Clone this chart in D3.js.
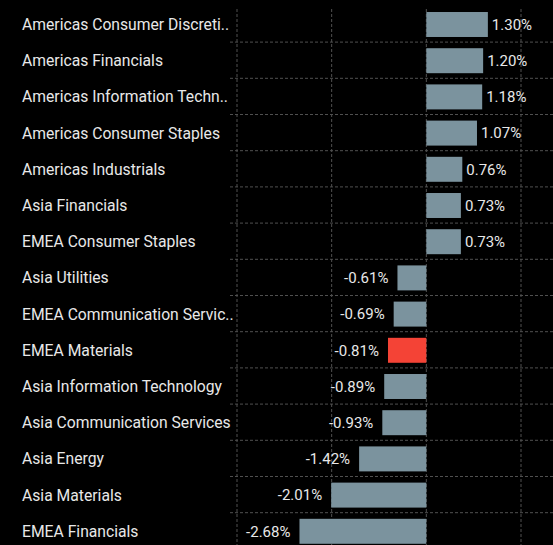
<!DOCTYPE html>
<html>
<head>
<meta charset="utf-8">
<script src="https://cdn.jsdelivr.net/npm/d3@7"></script>
<style>
  html, body { margin: 0; padding: 0; background: #000; }
  svg { display: block; }
  text { font-family: Roboto, "Noto Sans", sans-serif; }
</style>
</head>
<body>
<svg id="chart" width="553" height="545"></svg>
<script>
const categories = [
  "Americas Consumer Discreti..",
  "Americas Financials",
  "Americas Information Techn..",
  "Americas Consumer Staples",
  "Americas Industrials",
  "Asia Financials",
  "EMEA Consumer Staples",
  "Asia Utilities",
  "EMEA Communication Servic..",
  "EMEA Materials",
  "Asia Information Technology",
  "Asia Communication Services",
  "Asia Energy",
  "Asia Materials",
  "EMEA Financials"
];
const values = [1.30, 1.20, 1.18, 1.07, 0.76, 0.73, 0.73, -0.61, -0.69, -0.81, -0.89, -0.93, -1.42, -2.01, -2.68];
const highlighted = ["EMEA Materials"];
const xTicks = [-4, -2, 0, 2];

const W = 553, H = 545;
const svg = d3.select("#chart");

const x = d3.scaleLinear().domain([-4, 2]).range([237, 521]);
const y = d3.scaleBand().domain(categories).range([6.4, 549.4]).paddingInner(0.31).paddingOuter(0.155);

const gridColor = "#505050";
const plotLeft = 230;

// vertical grid
svg.append("g").selectAll("line").data(xTicks).join("line")
  .attr("x1", d => x(d)).attr("x2", d => x(d))
  .attr("y1", 9).attr("y2", H)
  .attr("stroke", gridColor).attr("stroke-width", 1).attr("stroke-dasharray", "3,2");

// horizontal grid between rows
const step = y.step();
const seps = categories.slice(1).map((c, i) => i + 1);
svg.append("g").selectAll("line").data(seps).join("line")
  .attr("x1", plotLeft).attr("x2", W)
  .attr("y1", i => 6.4 + step * i - 0.5).attr("y2", i => 6.4 + step * i - 0.5)
  .attr("stroke", gridColor).attr("stroke-width", 1).attr("stroke-dasharray", "3,2");

const rows = categories.map((c, i) => ({ c, v: values[i] }));

// bars
svg.append("g").selectAll("rect").data(rows).join("rect")
  .attr("x", d => Math.min(x(0), x(d.v)))
  .attr("width", d => Math.abs(x(d.v) - x(0)))
  .attr("y", d => y(d.c))
  .attr("height", y.bandwidth())
  .attr("fill", d => highlighted.includes(d.c) ? "#f44336" : "#7b939e");

// category labels
svg.append("g").selectAll("text").data(rows).join("text")
  .attr("x", 22)
  .attr("y", d => y(d.c) + y.bandwidth() / 2)
  .attr("dy", "0.35em")
  .attr("fill", "#e8e8e8")
  .attr("font-size", 15.7)
  .text(d => d.c);

// value labels
svg.append("g").selectAll("text").data(rows).join("text")
  .attr("x", d => d.v >= 0 ? x(d.v) + 4 : x(d.v) - 9)
  .attr("text-anchor", d => d.v >= 0 ? "start" : "end")
  .attr("y", d => y(d.c) + y.bandwidth() / 2)
  .attr("dy", "0.35em")
  .attr("fill", "#e8e8e8")
  .attr("font-size", 15)
  .text(d => d.v.toFixed(2) + "%");
</script>
</body>
</html>
